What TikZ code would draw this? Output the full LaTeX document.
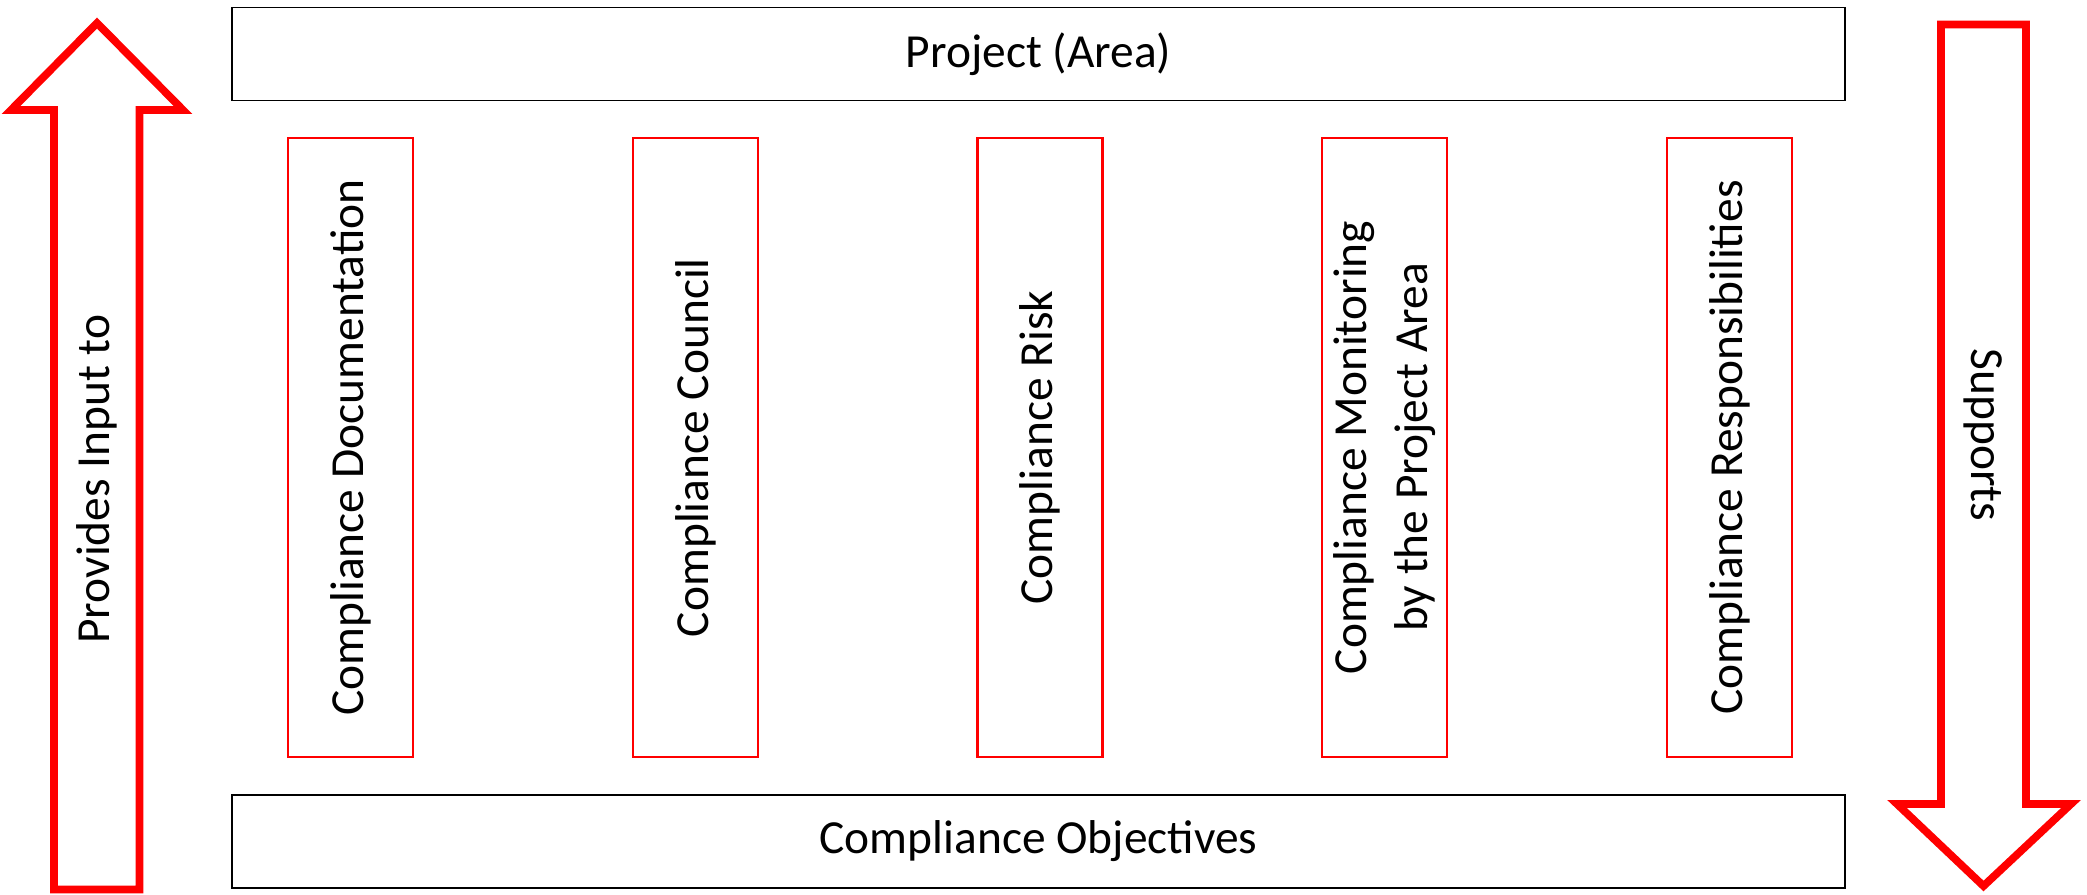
\documentclass[tikz,border=0pt]{standalone}
\usepackage{fontspec}
\setmainfont{Carlito}
\usetikzlibrary{positioning}
\tikzset{
    every node/.style={font=\fontsize{13.5}{17.5}\selectfont},
    blockarrow/.style={
        draw=red,
        line width=2.2pt,
        line join=miter,
        miter limit=10
    }
}

\begin{document}
\begin{tikzpicture}[
    x=1cm,y=1cm,
    bandbox/.style={
        draw,
        line width=0.5pt,
        minimum width=16.13cm,
        minimum height=0.93cm,
        inner sep=0pt
    },
    pillar/.style={
        draw=red,
        line width=0.6pt,
        rotate=90,
        minimum width=6.19cm,
        minimum height=1.25cm,
        inner sep=0pt,
        align=center
    }
]
\useasboundingbox (0,0) rectangle (20.87,8.94);

% top and bottom bands
\node[bandbox] (area) at (10.385,8.40) {Project (Area)};
\node[bandbox] (objectives) at (10.385,0.525) {Compliance Objectives};

% pillars
\node[pillar] (documentation) at (3.505,4.465) {Compliance Documentation};
\node[pillar] (council)       at (6.955,4.465) {Compliance Council};
\node[pillar] (risk)          at (10.400,4.465) {Compliance Risk};
\node[pillar] (monitoring)    at (13.845,4.465) {Compliance Monitoring\\by the Project Area};
\node[pillar] (responsible)   at (17.295,4.465) {Compliance Responsibilities};

% left block arrow, pointing up
\draw[blockarrow] (0.54,0.045) -- (0.54,7.84) -- (0.11,7.84) -- (0.97,8.71)
    -- (1.83,7.84) -- (1.395,7.84) -- (1.395,0.045) -- cycle;
\node[rotate=90] (input) at (0.97,4.15) {Provides Input to};

% right block arrow, pointing down
\draw[blockarrow] (19.41,8.695) -- (20.26,8.695) -- (20.26,0.90) -- (20.71,0.90)
    -- (19.835,0.08) -- (18.97,0.90) -- (19.41,0.90) -- cycle;
\node[rotate=-90] (supports) at (19.835,4.59) {Supports};

\end{tikzpicture}
\end{document}
